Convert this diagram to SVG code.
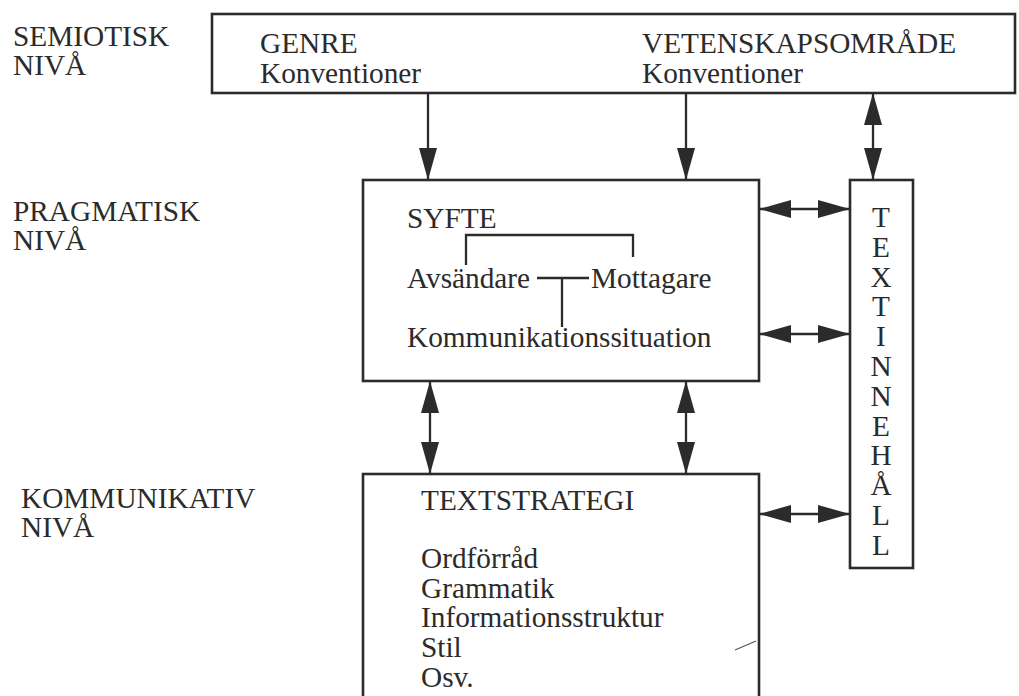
<svg xmlns="http://www.w3.org/2000/svg" width="1019" height="696" viewBox="0 0 1019 696">
<style>
text{font-family:"Liberation Serif","Times New Roman",serif;font-size:29.3px;fill:#2b2b2b}
.box{fill:none;stroke:#2b2b2b;stroke-width:2.6}
.ln{fill:none;stroke:#2b2b2b;stroke-width:2.3}
.c{text-anchor:middle}
</style>
<defs>
<marker id="ah" markerUnits="userSpaceOnUse" markerWidth="34" markerHeight="20" refX="32" refY="9" orient="auto-start-reverse" viewBox="0 0 34 20">
<path d="M0,0 L32,9 L0,18 Z" fill="#2b2b2b"/>
</marker>
</defs>
<rect width="1019" height="696" fill="#ffffff"/>
<g id="labels">
<text x="13" y="46">SEMIOTISK</text>
<text x="13" y="75">NIVÅ</text>
<text x="13" y="221">PRAGMATISK</text>
<text x="13" y="250">NIVÅ</text>
<text x="21" y="508">KOMMUNIKATIV</text>
<text x="21" y="537">NIVÅ</text>
</g>
<g id="semiotisk">
<rect class="box" x="212" y="14" width="803" height="79"/>
<text x="260" y="53">GENRE</text>
<text x="260" y="83">Konventioner</text>
<text x="642" y="53">VETENSKAPSOMRÅDE</text>
<text x="642" y="83">Konventioner</text>
</g>
<g id="pragmatisk">
<rect class="box" x="363" y="180" width="396" height="201"/>
<text x="407" y="228">SYFTE</text>
<text x="407" y="288">Avsändare</text>
<text x="591" y="288">Mottagare</text>
<text x="407" y="347">Kommunikationssituation</text>
<path class="ln" d="M466,265 V235 H633 V257"/>
<path class="ln" d="M537,278 H589 M562,278 V327"/>
</g>
<g id="textinnehall">
<rect class="box" x="850" y="180" width="63" height="388"/>
<text class="c" x="881" y="227">T</text>
<text class="c" x="881" y="257">E</text>
<text class="c" x="881" y="286.5">X</text>
<text class="c" x="881" y="316">T</text>
<text class="c" x="881" y="346">I</text>
<text class="c" x="881" y="376">N</text>
<text class="c" x="881" y="406">N</text>
<text class="c" x="881" y="435.5">E</text>
<text class="c" x="881" y="465">H</text>
<text class="c" x="881" y="495">Å</text>
<text class="c" x="881" y="525">L</text>
<text class="c" x="881" y="555">L</text>
</g>
<g id="kommunikativ">
<rect class="box" x="363" y="474" width="396" height="240"/>
<text x="421" y="510">TEXTSTRATEGI</text>
<text x="421" y="568">Ordförråd</text>
<text x="421" y="598">Grammatik</text>
<text x="421" y="627">Informationsstruktur</text>
<text x="421" y="657">Stil</text>
<text x="421" y="687">Osv.</text>
<path d="M735,650 L756,641" stroke="#555" stroke-width="1.2" fill="none"/>
</g>
<g id="connectors">
<line class="ln" x1="428" y1="93" x2="428" y2="180" marker-end="url(#ah)"/>
<line class="ln" x1="686" y1="93" x2="686" y2="180" marker-end="url(#ah)"/>
<line class="ln" x1="873" y1="93" x2="873" y2="180" marker-start="url(#ah)" marker-end="url(#ah)"/>
<line class="ln" x1="430" y1="381" x2="430" y2="474" marker-start="url(#ah)" marker-end="url(#ah)"/>
<line class="ln" x1="686" y1="381" x2="686" y2="474" marker-start="url(#ah)" marker-end="url(#ah)"/>
<line class="ln" x1="759" y1="209" x2="850" y2="209" marker-start="url(#ah)" marker-end="url(#ah)"/>
<line class="ln" x1="759" y1="334" x2="850" y2="334" marker-start="url(#ah)" marker-end="url(#ah)"/>
<line class="ln" x1="759" y1="514" x2="850" y2="514" marker-start="url(#ah)" marker-end="url(#ah)"/>
</g>
</svg>
